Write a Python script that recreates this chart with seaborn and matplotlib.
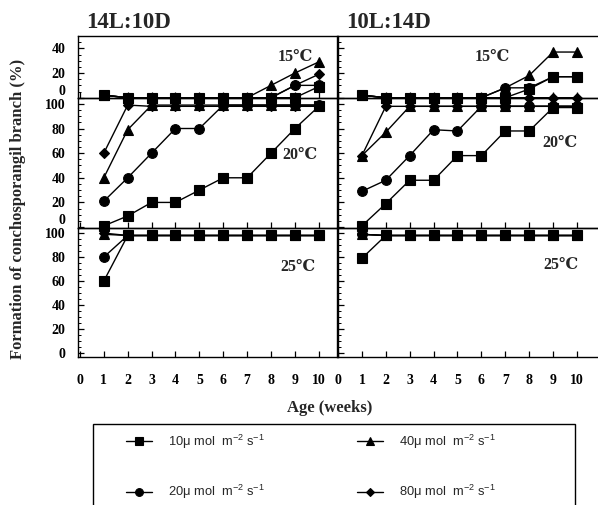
import matplotlib
matplotlib.use('Agg')
import matplotlib.pyplot as plt
import seaborn as sns
import pandas as pd
from matplotlib.ticker import MultipleLocator
from matplotlib.patches import Rectangle

# ---------------- data ----------------
weeks = [1, 2, 3, 4, 5, 6, 7, 8, 9, 10]
intensities = ['10', '20', '40', '80']
legend_labels = [r'10μ mol  m$^{-2}$ s$^{-1}$', r'20μ mol  m$^{-2}$ s$^{-1}$',
                 r'40μ mol  m$^{-2}$ s$^{-1}$', r'80μ mol  m$^{-2}$ s$^{-1}$']
photoperiods = ['14L:10D', '10L:14D']
temperatures = ['15℃', '20℃', '25℃']

# 14L:10D
ld14_15 = {'10': [2, 0, 0, 0, 0, 0, 0, 0, 0, 9],
           '20': [2, 0, 0, 0, 0, 0, 0, 0, 10, 10],
           '40': [2, 0, 0, 0, 0, 0, 0, 10, 20, 29],
           '80': [2, 0, 0, 0, 0, 0, 0, 0, 10, 19]}
ld14_20 = {'10': [1, 9, 20, 20, 30, 40, 40, 60, 80, 98],
           '20': [21, 40, 60, 80, 80, 99, 99, 99, 99, 99],
           '40': [40, 79, 99, 99, 99, 99, 99, 99, 99, 99],
           '80': [60, 99, 98, 98, 98, 98, 98, 98, 98, 98]}
ld14_25 = {'10': [60, 98, 98, 98, 98, 98, 98, 98, 98, 98],
           '20': [80, 98, 98, 98, 98, 98, 98, 98, 98, 98],
           '40': [99, 98, 98, 98, 98, 98, 98, 98, 98, 98],
           '80': [100, 98, 98, 98, 98, 98, 98, 98, 98, 98]}
# 10L:14D
ld10_15 = {'10': [2, 0, 0, 0, 0, 0, 0, 7, 17, 17],
           '20': [2, 0, 0, 0, 0, 0, 8, 8, 17, 17],
           '40': [2, 0, 0, 0, 0, 0, 8, 18, 37, 37],
           '80': [2, 0, 0, 0, 0, 0, 0, 0, 0, 0]}
ld10_20 = {'10': [1, 19, 38, 38, 58, 58, 78, 78, 97, 97],
           '20': [29, 38, 58, 79, 78, 98, 98, 98, 98, 98],
           '40': [58, 77, 98, 98, 98, 98, 98, 98, 98, 98],
           '80': [58, 98, 98, 98, 98, 98, 98, 98, 98, 98]}
ld10_25 = {'10': [79, 98, 98, 98, 98, 98, 98, 98, 98, 98],
           '20': [99, 98, 98, 98, 98, 98, 98, 98, 98, 98],
           '40': [99, 98, 98, 98, 98, 98, 98, 98, 98, 98],
           '80': [99, 98, 98, 98, 98, 98, 98, 98, 98, 98]}

panels = [[ld14_15, ld10_15], [ld14_20, ld10_20], [ld14_25, ld10_25]]

# ---------------- style ----------------
sns.set_style('ticks')
plt.rcParams['font.family'] = ['Liberation Serif', 'DejaVu Serif']
plt.rcParams['font.weight'] = 'normal'
plt.rcParams['mathtext.fontset'] = 'custom'
plt.rcParams['mathtext.rm'] = 'Liberation Sans'
plt.rcParams['mathtext.it'] = 'Liberation Sans:italic'
plt.rcParams['mathtext.bf'] = 'Liberation Sans:bold'

W, H = 598, 505
fig = plt.figure(figsize=(W / 100, H / 100), dpi=100)

def fx(px):
    return px / W

def fy(py):
    return 1 - py / H

col_x = [(78, 337), (338, 598)]
row_y = [(36, 97.7), (97.7, 228.3), (228.3, 357)]
xlims = [(-0.08, 10.76), (0, 10.88)]
ylims = [(0, 50), (-1, 105), (-3.3, 104)]

markers = {'10': 's', '20': 'o', '40': '^', '80': 'D'}
msizes = {'10': 7, '20': 7, '40': 7.5, '80': 5.2}

temp_pos = [[(0.84, 0.66), (0.594, 0.66)],
            [(0.857, 0.561), (0.852, 0.651)],
            [(0.851, 0.70), (0.856, 0.715)]]

handles = []
for r in range(3):
    for c in range(2):
        x0, x1 = col_x[c]
        y0, y1 = row_y[r]
        ax = fig.add_axes([fx(x0), fy(y1), fx(x1 - x0), (y1 - y0) / H])
        ax.set_facecolor('none')
        data = panels[r][c]
        for key in intensities:
            n_before = len(ax.lines)
            sns.lineplot(x=weeks, y=data[key], ax=ax, color='black',
                         marker=markers[key], markersize=msizes[key],
                         markeredgecolor='black', markerfacecolor='black',
                         markeredgewidth=0.8, linewidth=1.0,
                         clip_on=False, legend=False, errorbar=None)
            if r == 0 and c == 0:
                handles.append(ax.lines[n_before])
        ax.set_xlim(*xlims[c])
        ax.set_ylim(*ylims[r])
        ax.set_xlabel('')
        ax.set_ylabel('')
        ax.set_xticks(range(0, 11))
        if r == 0:
            ax.set_yticks([0, 20, 40])
        else:
            ax.set_yticks([0, 20, 40, 60, 80, 100])
        ax.yaxis.set_minor_locator(MultipleLocator(5))
        ax.tick_params(axis='both', which='major', direction='in',
                       length=4, width=0.9, color='black',
                       labelsize=10, labelcolor='black')
        ax.tick_params(axis='y', which='minor', direction='in',
                       length=2, width=0.7, color='black')
        ax.tick_params(axis='y', pad=9)
        ax.tick_params(axis='x', pad=12)
        ax.tick_params(labelbottom=(r == 2), labelleft=(c == 0))
        for lab in ax.get_xticklabels() + ax.get_yticklabels():
            lab.set_fontweight('bold')
        if c == 0 and r in (0, 1):
            ax.yaxis.get_major_ticks()[0].label1.set_verticalalignment('bottom')
        for s in ax.spines.values():
            s.set_linewidth(1.0)
            s.set_color('black')
        if c == 1:
            ax.spines['right'].set_visible(False)
        tx, ty = temp_pos[r][c]
        ax.text(tx, ty, temperatures[r], transform=ax.transAxes,
                ha='center', va='center', fontsize=11.5, fontweight='bold')

# titles
fig.text(fx(86), fy(22), photoperiods[0], ha='left', va='center',
         fontsize=16.5, fontweight='bold')
fig.text(fx(346), fy(22), photoperiods[1], ha='left', va='center',
         fontsize=16.5, fontweight='bold')

# axis labels
fig.text(fx(330), fy(408), 'Age (weeks)', ha='center', va='center',
         fontsize=12, fontweight='bold')
fig.text(fx(18), fy(209), 'Formation of conchosporangil branch (%)',
         rotation=90, ha='center', va='center', fontsize=12,
         fontweight='bold')

# legend box (runs past the bottom edge as in the original)
fig.add_artist(Rectangle((fx(93), fy(540)), fx(575 - 93), (540 - 424) / H,
                         transform=fig.transFigure, fill=False,
                         edgecolor='black', linewidth=1.0))
fig.legend(handles, legend_labels, ncol=2, loc='upper left',
           bbox_to_anchor=(fx(120), fy(426)), frameon=False,
           prop={'family': 'Liberation Sans', 'weight': 'normal', 'size': 9.3},
           markerscale=0.8, handlelength=2.0, handletextpad=1.2,
           columnspacing=7.2, labelspacing=2.5, borderpad=0)

fig.savefig('out.png', dpi=100)
